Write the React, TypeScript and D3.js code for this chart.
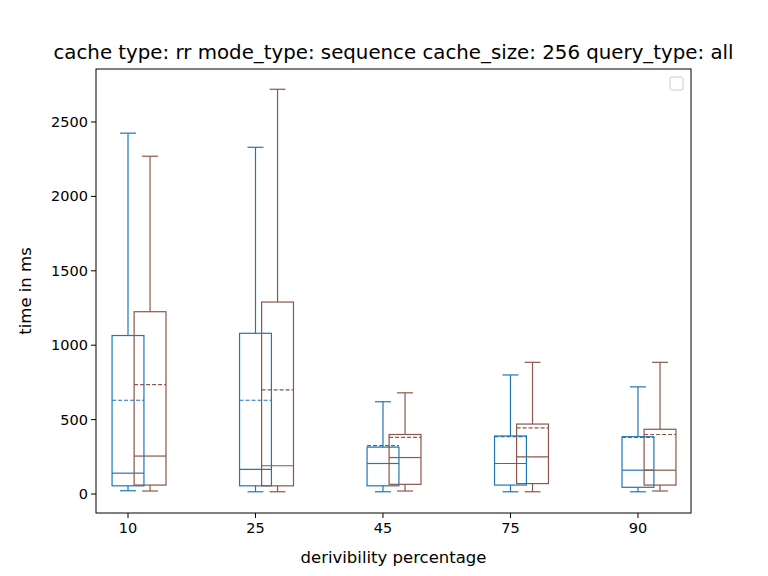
import React from "react";
import * as d3 from "d3";

const categories = ["10", "25", "45", "75", "90"];
// [whiskerLow, q1, median, q3, whiskerHigh, mean]
const seriesA = [
  [22, 55, 140, 1065, 2425, 630],
  [15, 55, 165, 1080, 2330, 630],
  [15, 55, 205, 315, 620, 325],
  [15, 60, 205, 390, 800, 385],
  [15, 45, 160, 385, 720, 380],
];
const seriesB = [
  [20, 60, 255, 1225, 2270, 735],
  [15, 55, 190, 1290, 2720, 700],
  [20, 65, 245, 400, 680, 380],
  [15, 70, 250, 470, 885, 445],
  [20, 60, 160, 435, 885, 400],
];
const yTicks = [0, 500, 1000, 1500, 2000, 2500];
const colors = ["#1f77b4", "#8c564b"];

export default function App() {
  const L = 96, R = 691, T = 69, B = 513;
  const x = d3.scaleLinear().domain([-0.251, 4.416]).range([L, R]);
  const y = d3.scaleLinear().domain([0, 2500]).range([494, 122]);
  const bw = 0.25;
  const cap = 0.125;
  const font = "DejaVu Sans, sans-serif";
  const box = (d: number[], i: number, off: number, c: string, k: string) => {
    const cx = i + off;
    const [lo, q1, med, q3, hi, mean] = d;
    return (
      <g key={k} stroke={c} fill="none" strokeWidth={1.2}>
        <rect x={x(cx - bw / 2)} y={y(q3)} width={x(cx + bw / 2) - x(cx - bw / 2)} height={y(q1) - y(q3)} />
        <line x1={x(cx)} x2={x(cx)} y1={y(q3)} y2={y(hi)} />
        <line x1={x(cx)} x2={x(cx)} y1={y(q1)} y2={y(lo)} />
        <line x1={x(cx - cap / 2)} x2={x(cx + cap / 2)} y1={y(hi)} y2={y(hi)} />
        <line x1={x(cx - cap / 2)} x2={x(cx + cap / 2)} y1={y(lo)} y2={y(lo)} />
        <line x1={x(cx - bw / 2)} x2={x(cx + bw / 2)} y1={y(med)} y2={y(med)} />
        <line x1={x(cx - bw / 2)} x2={x(cx + bw / 2)} y1={y(mean)} y2={y(mean)} strokeDasharray="4,2" />
      </g>
    );
  };
  return (
    <svg width={768} height={576} style={{ position: "absolute", left: 0, top: 0, background: "#fff" }} fontFamily={font}>
      <rect width={768} height={576} fill="#fff" />
      {seriesA.map((d, i) => box(d, i, 0, colors[0], "a" + i))}
      {seriesB.map((d, i) => box(d, i, 0.173, colors[1], "b" + i))}
      <rect x={L} y={T} width={R - L} height={B - T} fill="none" stroke="#000" strokeWidth={1} />
      {yTicks.map((t) => (
        <g key={t}>
          <line x1={L - 5} x2={L} y1={y(t)} y2={y(t)} stroke="#000" />
          <text x={L - 8} y={y(t)} dy="0.35em" textAnchor="end" fontSize={14.5}>{t}</text>
        </g>
      ))}
      {categories.map((c, i) => (
        <g key={c}>
          <line x1={x(i)} x2={x(i)} y1={B} y2={B + 5} stroke="#000" />
          <text x={x(i)} y={B + 20} textAnchor="middle" fontSize={14.5}>{c}</text>
        </g>
      ))}
      <text x={(L + R) / 2} y={563} textAnchor="middle" fontSize={16.5}>derivibility percentage</text>
      <text transform={`translate(31,${(T + B) / 2}) rotate(-90)`} textAnchor="middle" fontSize={16.5}>time in ms</text>
      <text x={(L + R) / 2} y={59} textAnchor="middle" fontSize={19.8}>cache type: rr mode_type: sequence cache_size: 256 query_type: all</text>
      <rect x={670} y={77} width={13} height={13} rx={2} fill="#fff" stroke="#ccc" />
    </svg>
  );
}
